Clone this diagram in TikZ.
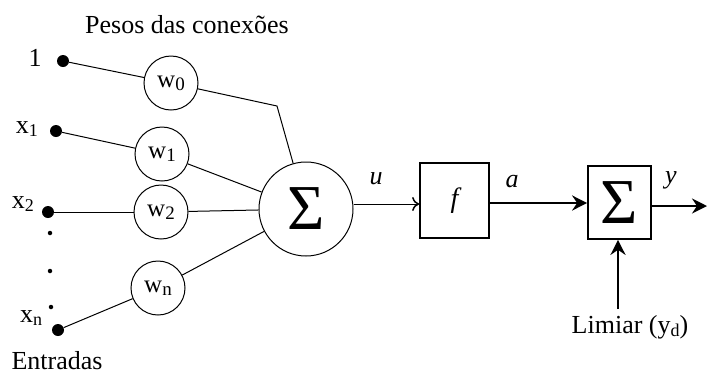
\documentclass[tikz,border=0pt]{standalone}
\usepackage{fontspec}
\setmainfont{Liberation Serif}
\usetikzlibrary{arrows.meta}
\newcommand{\wsub}[1]{w\raisebox{-0.25ex}{\fontsize{19}{19}\selectfont #1}}
\newcommand{\lsub}[1]{\raisebox{-0.3ex}{\fontsize{18}{18}\selectfont #1}}
\begin{document}
\begin{tikzpicture}[x=1pt,y=-1pt,
  txt/.style={font=\fontsize{26}{26}\selectfont, inner sep=0pt},
  itxt/.style={font=\fontsize{26}{26}\selectfont\itshape, inner sep=0pt},
  wnode/.style={draw, circle, minimum size=54pt, inner sep=0pt, line width=1pt, font=\fontsize{25}{25}\selectfont},
  dotin/.style={circle, fill=black, minimum size=12pt, inner sep=0pt},
  smalldot/.style={circle, fill=black, minimum size=4.5pt, inner sep=0pt},
  conn/.style={line width=1pt},
  boxnode/.style={draw, line width=1.7pt, inner sep=0pt},
  thick arr/.style={line width=2.8pt, -{Stealth[length=15pt,width=15pt,inset=5pt]}},
  thin arr/.style={line width=1pt, -{To[length=7pt,width=14pt,line width=1.5pt]}}
]
\useasboundingbox (0,0) rectangle (707,376);

% texts
\node[txt] (pesos) at (187,25) {Pesos das conexões};
\node[txt] (lab1) at (35,58) {1};
\node[txt] (labx1) at (27,129) {x\lsub{1}};
\node[txt] (labx2) at (23,204) {x\lsub{2}};
\node[txt] (labxn) at (31,318) {x\lsub{n}};
\node[txt] (entradas) at (57,361) {Entradas};

% input dots
\node[dotin] (i0) at (63,61) {};
\node[dotin] (i1) at (56,131) {};
\node[dotin] (i2) at (48,212) {};
\node[dotin] (in) at (58,330) {};
\node[smalldot] (d1) at (50,233) {};
\node[smalldot] (d2) at (50,271) {};
\node[smalldot] (d3) at (51,307) {};

% weights
\node[wnode] (w0) at (171,83) {\wsub{0}};
\node[wnode] (w1) at (162,154) {\wsub{1}};
\node[wnode] (w2) at (161,212) {\wsub{2}};
\node[wnode] (wn) at (158,288) {\wsub{n}};

% summation
\node[draw, circle, minimum size=94pt, inner sep=0pt, line width=1pt,
      font=\fontsize{64}{64}\selectfont] (sum) at (306,209) {Σ};

\coordinate (bend) at (277,106);
\draw[conn] (i0) -- (w0);
\draw[conn] (w0) -- (bend) -- (sum);
\draw[conn] (i1) -- (w1);
\draw[conn] (w1) -- (sum);
\draw[conn] (i2) -- (w2);
\draw[conn] (w2) -- (sum);
\draw[conn] (in) -- (wn);
\draw[conn] (wn) -- (sum);

% activation and output sum
\node[boxnode, minimum width=69pt, minimum height=75pt] (f) at (454.5,200.5)
  {\fontsize{28}{28}\selectfont\itshape f};
\node[boxnode, minimum width=63pt, minimum height=73pt,
      font=\fontsize{64}{64}\selectfont] (s2) at (619.5,202.5) {Σ};

\coordinate (uy) at (0,204);
\coordinate (ay) at (0,203);
\coordinate (yend) at (707,206);
\draw[thin arr] (sum.east |- uy) -- (f.west |- uy);
\draw[thick arr] (f.east |- ay) -- (s2.west |- ay);
\draw[thick arr] (s2.east |- yend) -- (yend);

\node[txt, anchor=north] (limiar) at (630,315) {Limiar (y\lsub{d})};
\coordinate (lstart) at (618,309);
\draw[thick arr] (lstart) -- (s2.south -| lstart);

\node[itxt] (u) at (376,179) {u};
\node[itxt] (a) at (512,182) {a};
\node[itxt] (y) at (671,180) {y};
\end{tikzpicture}
\end{document}
